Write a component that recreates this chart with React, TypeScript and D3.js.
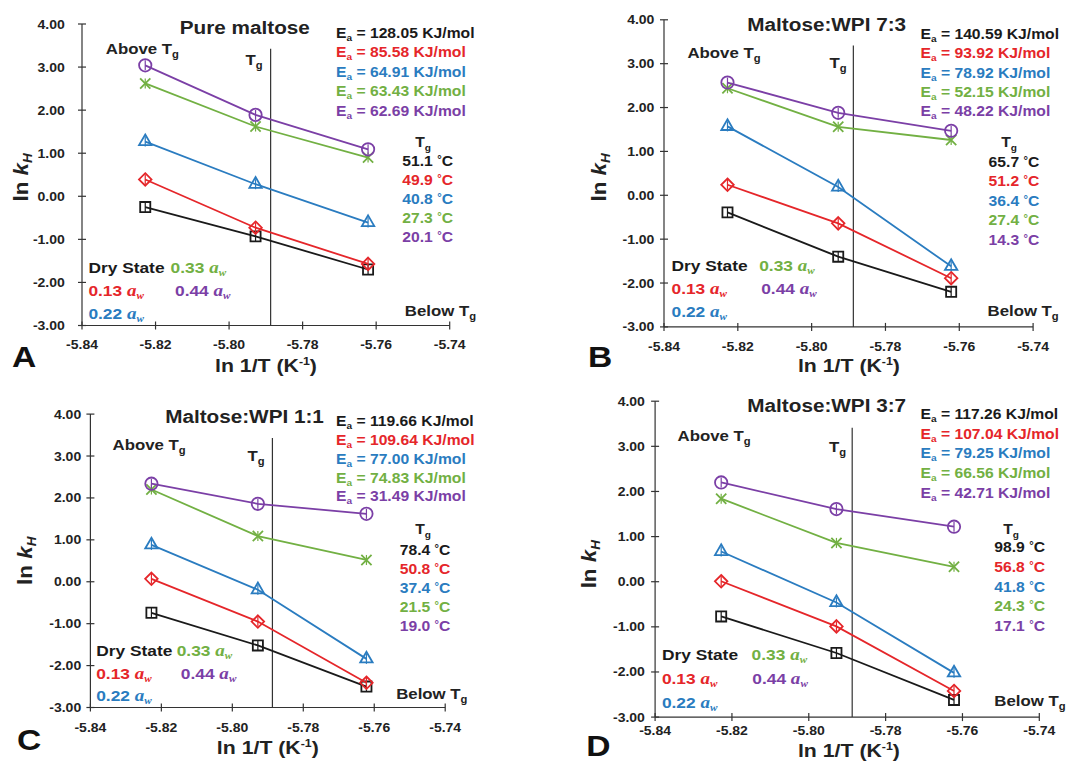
import React from "react";
import * as d3 from "d3";

// x positions of the three measurement temperatures, ln 1/T (K-1)
const xPoints = [-5.8228, -5.7928, -5.7622];
const tgLineX = -5.7887;
const xTicks = [-5.84, -5.82, -5.8, -5.78, -5.76, -5.74];
const yTicks = [4, 3, 2, 1, 0, -1, -2, -3];

const panelTitles = ["Pure maltose", "Maltose:WPI 7:3", "Maltose:WPI 1:1", "Maltose:WPI 3:7"];
const panelLetters = ["A", "B", "C", "D"];
const seriesLabels = ["Dry State", "0.13", "0.22", "0.33", "0.44"];
const seriesColors = ["#1a1a1a", "#e5262a", "#2a7cc0", "#72b043", "#7b3fa6"];

// ln kH values, one row per panel
const dryState = [
  [-0.25, -0.93, -1.7],
  [-0.39, -1.4, -2.2],
  [-0.74, -1.52, -2.5],
  [-0.77, -1.58, -2.62],
];
const aw013 = [
  [0.39, -0.73, -1.57],
  [0.24, -0.64, -1.89],
  [0.07, -0.95, -2.41],
  [0.01, -0.99, -2.42],
];
const aw022 = [
  [1.27, 0.28, -0.61],
  [1.57, 0.19, -1.62],
  [0.88, -0.19, -1.84],
  [0.67, -0.46, -2.02],
];
const aw033 = [
  [2.62, 1.62, 0.9],
  [2.44, 1.56, 1.26],
  [2.2, 1.09, 0.52],
  [1.84, 0.86, 0.33],
];
const aw044 = [
  [3.04, 1.89, 1.09],
  [2.57, 1.88, 1.47],
  [2.34, 1.86, 1.62],
  [2.2, 1.61, 1.22],
];

// activation energies (KJ/mol) and Tg (°C), same series order
const eaValues = [
  ["128.05", "85.58", "64.91", "63.43", "62.69"],
  ["140.59", "93.92", "78.92", "52.15", "48.22"],
  ["119.66", "109.64", "77.00", "74.83", "31.49"],
  ["117.26", "107.04", "79.25", "66.56", "42.71"],
];
const tgValues = [
  ["51.1", "49.9", "40.8", "27.3", "20.1"],
  ["65.7", "51.2", "36.4", "27.4", "14.3"],
  ["78.4", "50.8", "37.4", "21.5", "19.0"],
  ["98.9", "56.8", "41.8", "24.3", "17.1"],
];

const seriesData = [dryState, aw013, aw022, aw033, aw044];

// page layout of each panel (pixels)
const layout = [
  {
    x0: 82, x1: 449.7, yTop: 24, yBot: 325.5, tgTop: 48.8,
    title: [244.8, 34.1], ea: [336, 37.5, 19.5], above: [105.8, 53.9], tgLab: [245.6, 64.8],
    tgCol: [423, 146.7, 453, 165.5, 19.2],
    legend: { x1: 88.4, x2: 170.6, x4: 175, r1: 273, r2: 295.5, r3: 319 },
    below: [476, 315.6], letter: [12, 366.8], xTickY: 348.7, xTitle: [266, 371.9],
    yTitle: [22.2, 177.4], yTickX: 64.8,
  },
  {
    x0: 664, x1: 1033.1, yTop: 19.8, yBot: 326.9, tgTop: 45.4,
    title: [826.7, 30.7], ea: [920.5, 39.2, 19.2], above: [687.5, 58], tgLab: [829.4, 68.2],
    tgCol: [1009, 146.7, 1039.3, 166.5, 19.5],
    legend: { x1: 671.5, x2: 759.2, x4: 761.2, r1: 271.2, r2: 294.1, r3: 317.3 },
    below: [1058.7, 315.6], letter: [587.9, 366.8], xTickY: 351.4, xTitle: [848.9, 371.9],
    yTitle: [599.8, 177.4], yTickX: 654.4,
  },
  {
    x0: 90.4, x1: 445.2, yTop: 414.1, yBot: 707.5, tgTop: 438,
    title: [244.5, 422.6], ea: [336, 426.1, 18.8], above: [112.6, 450], tgLab: [247.4, 461.2],
    tgCol: [423, 533.5, 450.4, 554.7, 19],
    legend: { x1: 96.2, x2: 176.7, x4: 180.8, r1: 656.4, r2: 679.2, r3: 700.7 },
    below: [467.4, 699], letter: [17, 750.2], xTickY: 732.4, xTitle: [267.8, 753.6],
    yTitle: [25.6, 560.8], yTickX: 81.2,
  },
  {
    x0: 655.1, x1: 1039.3, yTop: 401.2, yBot: 717.1, tgTop: 427.8,
    title: [826.7, 412.4], ea: [920.5, 419.2, 19.6], above: [677.6, 441.4], tgLab: [829.1, 452.3],
    tgCol: [1011, 533.5, 1045, 552.3, 19.6],
    legend: { x1: 661.9, x2: 751.6, x4: 752.3, r1: 659.8, r2: 683.7, r3: 707.5 },
    below: [1065.5, 705.8], letter: [586.2, 756], xTickY: 734.8, xTitle: [848.9, 756.5],
    yTitle: [589.6, 564.2], yTickX: 644.9,
  },
];

const FONT = "'Liberation Sans', Arial, Helvetica, sans-serif";
const SERIF = "'Liberation Serif', 'Times New Roman', serif";
const SX = 1.12;

const symbols = [
  d3.symbol(d3.symbolSquare2, 130),
  d3.symbol(d3.symbolDiamond2, 100),
  d3.symbol(d3.symbolTriangle2, 110),
  d3.symbol(d3.symbolTimes, 70),
  d3.symbol(d3.symbolCircle, 120),
];

const tr = (x: number, y: number) => `translate(${x},${y}) scale(${SX},1)`;

// base text followed by a subscript and optional trailing text
function SubText({ base, sub, size, shift, after }: { base: string; sub: string; size: number; shift: number; after?: string }) {
  return (
    <>
      <tspan>{base}</tspan>
      <tspan dy={shift} fontSize={size}>{sub}</tspan>
      {after ? <tspan dy={-shift}>{after}</tspan> : null}
    </>
  );
}

function Aw({ color, value }: { color: string; value: string }) {
  return (
    <>
      <tspan fill={color}>{value + " "}</tspan>
      <tspan fill={color} fontFamily={SERIF} fontStyle="italic" fontSize={17}>a</tspan>
      <tspan fill={color} fontFamily={SERIF} fontStyle="italic" fontSize={10} dy={3}>w</tspan>
    </>
  );
}

function Panel({ p }: { p: number }) {
  const L = layout[p];
  const x = d3.scaleLinear().domain([-5.84, -5.74]).range([L.x0, L.x1]);
  const y = d3.scaleLinear().domain([-3, 4]).range([L.yBot, L.yTop]);
  const line = d3
    .line<number>()
    .x((_, i) => x(xPoints[i]))
    .y((d) => y(d));

  return (
    <g fontFamily={FONT} fontWeight="bold">
      {/* axes */}
      <line x1={L.x0} x2={L.x0} y1={y(4)} y2={y(-3)} stroke="#333" strokeWidth={1.2} />
      <line x1={L.x0} x2={L.x1} y1={y(-3)} y2={y(-3)} stroke="#333" strokeWidth={1.2} />
      {yTicks.map((t) => (
        <g key={"y" + t}>
          <line x1={L.x0 - 4} x2={L.x0 + 4} y1={y(t)} y2={y(t)} stroke="#333" strokeWidth={1.2} />
          <text transform={tr(L.yTickX, y(t) + 4.5)} textAnchor="end" fontSize={12.5} fill="#222">
            {t.toFixed(2)}
          </text>
        </g>
      ))}
      {xTicks.map((t) => (
        <g key={"x" + t}>
          <line x1={x(t)} x2={x(t)} y1={y(-3) - 4} y2={y(-3) + 4} stroke="#333" strokeWidth={1.2} />
          <text transform={tr(x(t), L.xTickY)} textAnchor="middle" fontSize={12.5} fill="#222">
            {t.toFixed(2)}
          </text>
        </g>
      ))}
      <text transform={tr(L.xTitle[0], L.xTitle[1])} textAnchor="middle" fontSize={19} fill="#222">
        <tspan>ln 1/T (K</tspan>
        <tspan dy={-7} fontSize={11}>-1</tspan>
        <tspan dy={7}>)</tspan>
      </text>
      <text
        transform={`translate(${L.yTitle[0]},${L.yTitle[1]}) rotate(-90) scale(${SX},1)`}
        textAnchor="middle"
        dy={6}
        fontSize={20}
        fill="#222"
      >
        <tspan>ln </tspan>
        <tspan fontStyle="italic">k</tspan>
        <tspan fontStyle="italic" fontSize={12} dy={4}>H</tspan>
      </text>

      {/* Tg line */}
      <line x1={x(tgLineX)} x2={x(tgLineX)} y1={L.tgTop} y2={y(-3)} stroke="#333" strokeWidth={1.2} />

      {/* series */}
      {seriesData.map((s, k) => {
        const vals = s[p];
        return (
          <g key={"s" + k}>
            <path d={line(vals) || ""} fill="none" stroke={seriesColors[k]} strokeWidth={1.8} />
            {vals.map((v, i) => (
              <g key={i} transform={`translate(${x(xPoints[i])},${y(v)})`}>
                <line y1={-5} y2={5} stroke={seriesColors[k]} strokeWidth={1.2} />
                <path d={symbols[k]() || ""} fill="none" stroke={seriesColors[k]} strokeWidth={1.8} />
              </g>
            ))}
          </g>
        );
      })}

      {/* annotations */}
      <text transform={tr(L.title[0], L.title[1])} textAnchor="middle" fontSize={18.5} fill="#222">
        {panelTitles[p]}
      </text>
      {eaValues[p].map((e, k) => (
        <text key={"ea" + k} transform={tr(L.ea[0], L.ea[1] + k * L.ea[2])} fontSize={14} fill={seriesColors[k]}>
          <SubText base="E" sub="a" size={9} shift={3} after={` = ${e} KJ/mol`} />
        </text>
      ))}
      <text transform={tr(L.above[0], L.above[1])} fontSize={15} fill="#222">
        <SubText base="Above T" sub="g" size={10} shift={4} />
      </text>
      <text transform={tr(L.tgLab[0], L.tgLab[1])} fontSize={15} fill="#222">
        <SubText base="T" sub="g" size={10} shift={4} />
      </text>
      <text transform={tr(L.tgCol[0], L.tgCol[1])} textAnchor="middle" fontSize={14} fill="#222">
        <SubText base="T" sub="g" size={9} shift={4} />
      </text>
      {tgValues[p].map((t, k) => (
        <text
          key={"tg" + k}
          transform={tr(L.tgCol[2], L.tgCol[3] + k * L.tgCol[4])}
          textAnchor="end"
          fontSize={14}
          fill={seriesColors[k]}
        >
          <tspan>{t + " "}</tspan>
          <tspan fontSize={10} dy={-3}>°</tspan>
          <tspan dy={3}>C</tspan>
        </text>
      ))}
      <text transform={tr(L.below[0], L.below[1])} textAnchor="end" fontSize={15} fill="#222">
        <SubText base="Below T" sub="g" size={10} shift={4} />
      </text>

      {/* legend */}
      <text transform={tr(L.legend.x1, L.legend.r1)} fontSize={15.5} fill={seriesColors[0]}>
        {seriesLabels[0]}
      </text>
      <text transform={tr(L.legend.x2, L.legend.r1)} fontSize={15.5}>
        <Aw color={seriesColors[3]} value={seriesLabels[3]} />
      </text>
      <text transform={tr(L.legend.x1, L.legend.r2)} fontSize={15.5}>
        <Aw color={seriesColors[1]} value={seriesLabels[1]} />
      </text>
      <text transform={tr(L.legend.x4, L.legend.r2)} fontSize={15.5}>
        <Aw color={seriesColors[4]} value={seriesLabels[4]} />
      </text>
      <text transform={tr(L.legend.x1, L.legend.r3)} fontSize={15.5}>
        <Aw color={seriesColors[2]} value={seriesLabels[2]} />
      </text>

      <text transform={tr(L.letter[0], L.letter[1])} fontSize={30} fill="#111">
        {panelLetters[p]}
      </text>
    </g>
  );
}

export default function App() {
  return (
    <svg
      width={1070}
      height={762}
      style={{ position: "absolute", left: 0, top: 0, background: "#fff" }}
    >
      <rect width={1070} height={762} fill="#fff" />
      {panelTitles.map((_, p) => (
        <Panel key={p} p={p} />
      ))}
    </svg>
  );
}
